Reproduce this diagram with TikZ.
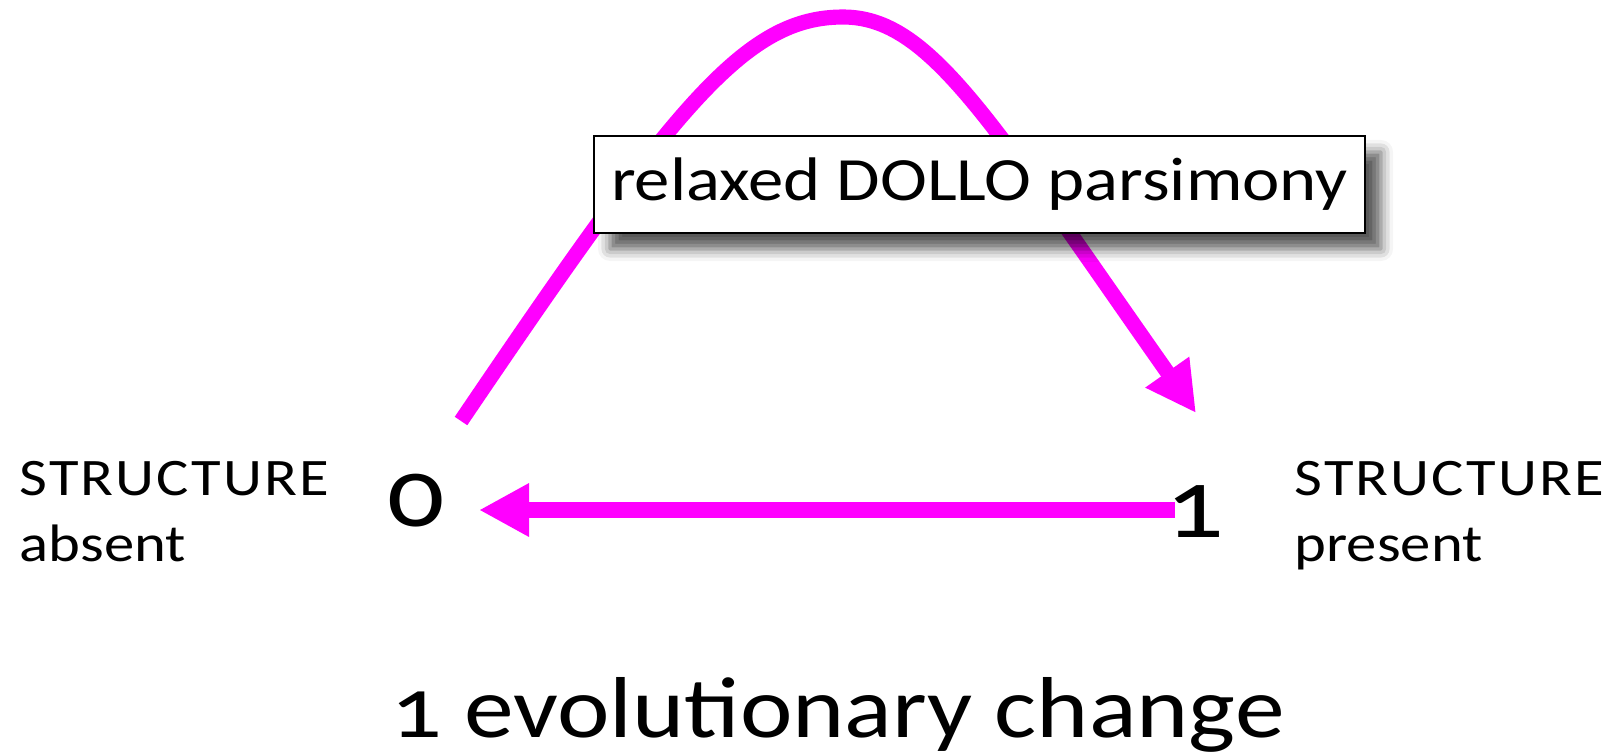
\documentclass[tikz,border=0pt]{standalone}
\usepackage{fontspec}
\setmainfont{Carlito}[Numbers=OldStyle,FakeStretch=1.15]
\usepackage{tikz}
\usetikzlibrary{positioning,arrows.meta,shadows.blur}
\definecolor{change}{HTML}{FF00FF}

\begin{document}
\begin{tikzpicture}[>={Triangle[length=5mm,width=5mm]},
  flow/.style={->,change,line width=4.3pt},
  state/.style={font=\fontsize{28}{28}\selectfont,inner sep=0pt},
  side/.style={font=\fontsize{15}{18.6}\selectfont,align=left,inner sep=0pt}]
 \useasboundingbox (0,0) rectangle (16.19,7.55);
 % the two character states
 \node[state,anchor=base] (zero) at (4.16,2.29) {0};
 \node[state,anchor=base] (one) at (11.95,2.18) {1};
 \node[side,anchor=north west] (absent) at (0.19,2.94) {\addfontfeature{LetterSpace=4}STRUCTURE\\absent};
 \node[side,anchor=north west] (present) at (12.94,2.94) {\addfontfeature{LetterSpace=4}STRUCTURE\\present};
 % gain over the top, loss along the bottom
 \coordinate (top) at (8.43,7.38);
 \draw[flow] ([shift={(0.45,1.05)}]zero.base) .. controls (6.75,6.5) and (7.45,7.38) .. (top)
   .. controls (9.3,7.38) and (9.9,6.35) .. ([shift={(0.01,1.24)}]one.base);
 \coordinate (from) at ([shift={(-0.2,0.27)}]one.base);
 \coordinate (to) at ([shift={(0.63,0.16)}]zero.base);
 \draw[flow] (from) -- (to);
 \node[draw=black,fill=white,line width=0.7pt,minimum width=7.71cm,minimum height=0.97cm,inner sep=0pt,
   font=\fontsize{17.5}{17.5}\selectfont,
   blur shadow={shadow xshift=1.6mm,shadow yshift=-1.6mm,shadow blur radius=1.2mm,shadow opacity=65}]
   (rule) at (9.795,5.705) {relaxed DOLLO parsimony};
 \node[font=\fontsize{24.6}{24.6}\selectfont,anchor=base] (count) at (8.38,0.18) {1 evolutionary change};
\end{tikzpicture}
\end{document}
